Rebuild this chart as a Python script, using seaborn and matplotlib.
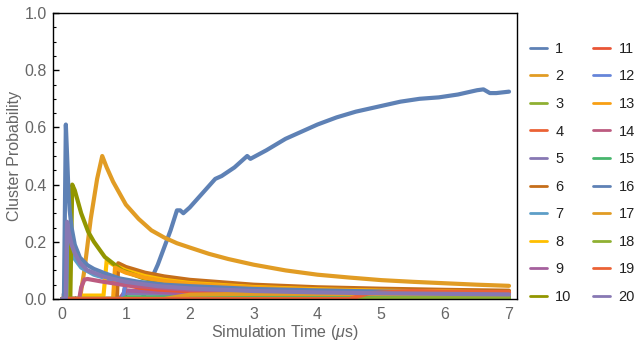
import numpy as np
import pandas as pd
import seaborn as sns
import matplotlib
matplotlib.use("Agg")
import matplotlib.pyplot as plt
from matplotlib.lines import Line2D
from matplotlib.ticker import MultipleLocator

# ---- data ----
labels = [str(i) for i in range(1, 21)]
colors = ["#5E81B5", "#E19C24", "#8FB032", "#EB6235", "#8778B3",
          "#C56E1A", "#5D9EC7", "#FFBF00", "#A5609D", "#929600",
          "#E95536", "#6685D9", "#F89F13", "#BC5B80", "#47B66D",
          "#5E81B5", "#E19C24", "#8FB032", "#EB6235", "#8778B3"]

t1 = [0, 1.25, 1.3, 1.5, 1.7, 1.8, 1.85, 1.9, 2.0, 2.2, 2.4, 2.5, 2.7, 2.9, 2.95, 3.2, 3.5,
      3.8, 4.0, 4.3, 4.6, 4.8, 5.0, 5.3, 5.6, 5.9, 6.2, 6.5, 6.6, 6.7, 6.8, 7.0]
p1 = [0, 0, 0.02, 0.12, 0.24, 0.31, 0.31, 0.30, 0.32, 0.37, 0.42, 0.43, 0.46, 0.50, 0.49, 0.52, 0.56,
      0.59, 0.61, 0.635, 0.655, 0.665, 0.675, 0.69, 0.70, 0.705, 0.715, 0.73, 0.733, 0.72, 0.72, 0.725]

t2 = [0, 0.28, 0.35, 0.45, 0.55, 0.63, 0.7, 0.8, 0.9, 1.0, 1.2, 1.4, 1.6, 1.8, 2.0, 2.3, 2.6,
      3.0, 3.5, 4.0, 4.5, 5.0, 5.5, 6.0, 6.5, 7.0]
p2 = [0, 0, 0.1, 0.28, 0.42, 0.5, 0.46, 0.41, 0.37, 0.33, 0.28, 0.24, 0.215, 0.195, 0.18, 0.158, 0.14,
      0.12, 0.1, 0.085, 0.075, 0.066, 0.06, 0.055, 0.05, 0.046]

t3 = [0, 1.5, 2.0, 3.0, 4.0, 5.0, 6.0, 7.0]
p3 = [0, 0, 0.004, 0.006, 0.006, 0.006, 0.006, 0.006]

t4 = [0, 0.96, 1.0, 1.1, 1.5, 2.0, 3.0, 4.0, 5.0, 5.5, 6.0, 7.0]
p4 = [0, 0, 0.06, 0.05, 0.036, 0.03, 0.025, 0.022, 0.024, 0.026, 0.024, 0.022]

t5 = [0, 0.9, 1.0, 2.0, 3.0, 4.0, 5.0, 6.0, 7.0]
p5 = [0, 0, 0.02, 0.016, 0.012, 0.01, 0.009, 0.008, 0.008]

t6 = [0, 0.86, 0.88, 1.0, 1.3, 1.6, 2.0, 3.0, 4.0, 5.0, 6.0, 7.0]
p6 = [0, 0, 0.125, 0.112, 0.092, 0.079, 0.067, 0.05, 0.041, 0.036, 0.032, 0.029]

t7 = [0, 0.07, 0.09, 0.12, 0.2, 0.3, 0.5, 0.8, 1.0, 1.5, 2.0, 3.0, 4.0, 5.0, 6.0, 7.0]
p7 = [0, 0, 0.22, 0.18, 0.14, 0.11, 0.085, 0.065, 0.056, 0.044, 0.037, 0.029, 0.024, 0.021, 0.019, 0.017]

t8 = [0, 0.3, 0.32, 0.65, 0.7, 0.8, 1.0, 1.3, 1.6, 2.0, 3.0, 4.0, 5.0, 6.0, 7.0]
p8 = [0, 0, 0.012, 0.012, 0.135, 0.12, 0.1, 0.08, 0.067, 0.056, 0.042, 0.034, 0.029, 0.026, 0.023]

t9 = [0, 0.9, 1.0, 1.5, 2.0, 3.0, 4.0, 5.0, 6.0, 7.0]
p9 = [0, 0, 0.03, 0.025, 0.02, 0.016, 0.014, 0.012, 0.011, 0.01]

t10 = [0, 0.13, 0.16, 0.2, 0.3, 0.41, 0.5, 0.67, 0.94, 1.27, 1.6, 2.0, 3.0, 4.0, 5.0, 6.0, 7.0]
p10 = [0, 0, 0.4, 0.38, 0.3, 0.235, 0.2, 0.147, 0.1, 0.073, 0.06, 0.05, 0.037, 0.03, 0.026, 0.023, 0.021]

t11 = [0, 0.95, 1.0, 1.2, 1.5, 2.0, 3.0, 4.0, 5.0, 6.0, 7.0]
p11 = [0, 0, 0.05, 0.04, 0.033, 0.027, 0.022, 0.02, 0.018, 0.017, 0.016]

t12 = [0, 0.95, 1.0, 1.2, 1.5, 2.0, 3.0, 4.0, 5.0, 6.0, 7.0]
p12 = [0, 0, 0.06, 0.055, 0.048, 0.04, 0.032, 0.027, 0.024, 0.022, 0.02]

t13 = [0, 0.8, 0.83, 0.9, 1.0, 1.3, 1.6, 2.0, 3.0, 4.0, 5.0, 6.0, 7.0]
p13 = [0, 0, 0.11, 0.102, 0.092, 0.074, 0.063, 0.053, 0.04, 0.032, 0.028, 0.025, 0.022]

t14 = [0, 0.27, 0.3, 0.35, 0.4, 0.6, 1.0, 2.0, 4.0, 7.0]
p14 = [0, 0, 0.04, 0.068, 0.07, 0.062, 0.048, 0.032, 0.022, 0.015]

t15 = [0, 0.95, 1.0, 2.0, 3.0, 5.0, 7.0]
p15 = [0, 0, 0.006, 0.005, 0.004, 0.004, 0.004]

t16 = [0, 0.03, 0.06, 0.08, 0.1, 0.12, 0.15, 0.2, 0.28, 0.4, 0.5, 0.67, 0.9, 1.2, 1.6, 2.0, 3.0, 4.0, 5.0, 6.0, 7.0]
p16 = [0, 0, 0.61, 0.5, 0.38, 0.31, 0.25, 0.19, 0.145, 0.118, 0.105, 0.09, 0.072, 0.06, 0.05, 0.045, 0.035, 0.03, 0.026, 0.024, 0.022]

t17 = [0, 1.6, 2.0, 3.0, 4.0, 5.0, 6.0, 7.0]
p17 = [0, 0, 0.015, 0.018, 0.018, 0.017, 0.016, 0.015]

t18 = [0, 2.0, 7.0]
p18 = [0, 0, 0.002]

t19 = [0, 4.5, 4.8, 5.5, 6.0, 7.0]
p19 = [0, 0, 0.02, 0.028, 0.025, 0.024]

t20 = [0, 0.06, 0.08, 0.1, 0.15, 0.2, 0.28, 0.4, 0.67, 1.0, 1.5, 2.0, 3.0, 4.0, 5.0, 6.0, 7.0]
p20 = [0, 0, 0.27, 0.24, 0.19, 0.16, 0.126, 0.1, 0.077, 0.06, 0.045, 0.037, 0.028, 0.023, 0.02, 0.018, 0.016]

times = [t1, t2, t3, t4, t5, t6, t7, t8, t9, t10, t11, t12, t13, t14, t15, t16, t17, t18, t19, t20]
probs = [p1, p2, p3, p4, p5, p6, p7, p8, p9, p10, p11, p12, p13, p14, p15, p16, p17, p18, p19, p20]

rows = []
for lab, ts, ps in zip(labels, times, probs):
    for t, p in zip(ts, ps):
        rows.append((lab, t, p))
df = pd.DataFrame(rows, columns=["series", "time", "prob"])

sns.set_style("white")
plt.rcParams['font.family'] = ['Liberation Sans', 'DejaVu Sans']
plt.rcParams['mathtext.fontset'] = 'custom'
plt.rcParams['mathtext.it'] = 'Liberation Sans:italic'
plt.rcParams['mathtext.rm'] = 'Liberation Sans'

fig = plt.figure(figsize=(6.34, 3.41), dpi=100)
ax = fig.add_axes([53/634, 1-299/341, (517-53)/634, (299-13)/341])

sns.lineplot(data=df, x="time", y="prob", hue="series", hue_order=labels,
             palette=dict(zip(labels, colors)), estimator=None, sort=False,
             linewidth=3.0, legend=False, ax=ax)

ax.set_xlim(-0.141, 7.125)
ax.set_ylim(0, 1.0)
ax.xaxis.set_major_locator(MultipleLocator(1))
ax.xaxis.set_minor_locator(MultipleLocator(0.2))
ax.yaxis.set_major_locator(MultipleLocator(0.2))
ax.yaxis.set_minor_locator(MultipleLocator(0.05))
ax.yaxis.set_major_formatter(matplotlib.ticker.FormatStrFormatter('%.1f'))
ax.tick_params(which='both', direction='in', color='black', bottom=True, left=True, top=False, right=False)
ax.tick_params(which='major', length=4, width=1.0, labelsize=11.5, labelcolor='#666666')
ax.tick_params(axis='x', which='major', pad=6)
ax.tick_params(axis='y', which='major', pad=4.5)
ax.tick_params(which='minor', length=2.2, width=0.8)
for s in ax.spines.values():
    s.set_color('black')
    s.set_linewidth(1.0)
ax.set_xlabel("Simulation Time ($\\mathit{\\mu}$s)", fontsize=11.5, color='#666666', labelpad=0.5)
ax.set_ylabel("Cluster Probability", fontsize=11.5, color='#666666', labelpad=1.5)

handles = [Line2D([0], [0], color=c, lw=2.0) for c in colors]
leg = ax.legend(handles, labels, ncol=2, loc='upper left', bbox_to_anchor=(524/634, 1-36/341),
                bbox_transform=fig.transFigure, frameon=False, fontsize=10.5,
                handlelength=1.2, handletextpad=0.55, columnspacing=1.45, labelspacing=0.93,
                borderpad=0.4, borderaxespad=0)
for txt in leg.get_texts():
    txt.set_color('#222222')

fig.savefig("out.png", dpi=100)
